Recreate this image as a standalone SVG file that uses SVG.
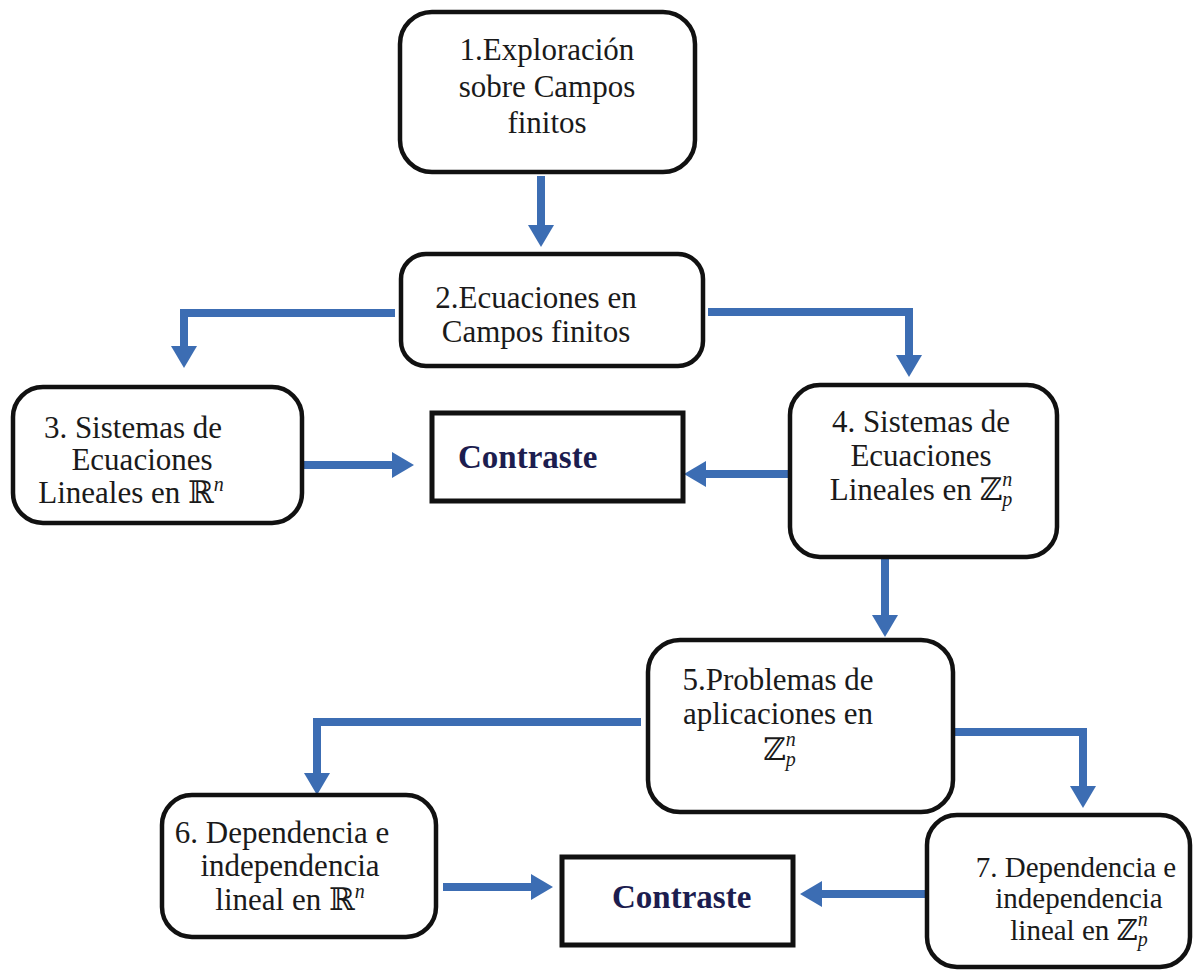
<svg xmlns="http://www.w3.org/2000/svg" width="1193" height="973" viewBox="0 0 1193 973">
<style>
.box{fill:#ffffff;stroke:#111111;stroke-width:4.5}
.cbox{fill:#ffffff;stroke:#111111;stroke-width:5}
.t{font-family:"Liberation Serif","Times New Roman",serif;font-size:31px;fill:#1a1a1a}
.c{font-family:"Liberation Serif","Times New Roman",serif;font-size:33px;font-weight:bold;fill:#1c1d4f}
.m{font-family:"DejaVu Serif","Liberation Serif",serif}
.i{font-style:italic;font-size:20px}
.conn{fill:none;stroke:#3c6db3;stroke-width:8;stroke-linejoin:miter}
</style>
<defs>
<marker id="ah" viewBox="0 0 22 26" refX="4" refY="13" markerWidth="22" markerHeight="26" markerUnits="userSpaceOnUse" orient="auto">
<path d="M0,0 L22,13 L0,26 Z" fill="#3c6db3"/>
</marker>
</defs>
<rect width="1193" height="973" fill="#ffffff"/>
<g id="connectors">
<path class="conn" d="M541,176 V229" marker-end="url(#ah)"/>
<path class="conn" d="M395,313 H184 V350" marker-end="url(#ah)"/>
<path class="conn" d="M708,312 H909 V359" marker-end="url(#ah)"/>
<path class="conn" d="M302,465 H396" marker-end="url(#ah)"/>
<path class="conn" d="M788,474 H702" marker-end="url(#ah)"/>
<path class="conn" d="M885,559 V619" marker-end="url(#ah)"/>
<path class="conn" d="M641,722 H317 V777" marker-end="url(#ah)"/>
<path class="conn" d="M955,732 H1083 V790" marker-end="url(#ah)"/>
<path class="conn" d="M443,887 H535" marker-end="url(#ah)"/>
<path class="conn" d="M925,894 H818" marker-end="url(#ah)"/>
</g>
<g id="n1">
<rect class="box" x="400" y="12" width="295" height="160" rx="32"/>
<text class="t" text-anchor="middle"><tspan x="547" y="60">1.Exploración</tspan><tspan x="547" y="97">sobre Campos</tspan><tspan x="547" y="133">finitos</tspan></text>
</g>
<g id="n2">
<rect class="box" x="401" y="254" width="302" height="112" rx="25"/>
<text class="t" text-anchor="middle"><tspan x="536" y="308">2.Ecuaciones en</tspan><tspan x="536" y="342">Campos finitos</tspan></text>
</g>
<g id="n3">
<rect class="box" x="13" y="387" width="289" height="136" rx="30"/>
<text class="t" text-anchor="middle"><tspan x="133" y="438">3. Sistemas de</tspan><tspan x="142" y="470">Ecuaciones</tspan><tspan x="131" y="503">Lineales en <tspan class="m">ℝ</tspan><tspan class="i" dy="-12">n</tspan></tspan></text>
</g>
<g id="c1">
<rect class="cbox" x="432" y="413" width="251" height="88"/>
<text class="c" x="458" y="468">Contraste</text>
</g>
<g id="n4">
<rect class="box" x="790" y="385" width="267" height="172" rx="30"/>
<text class="t" text-anchor="middle"><tspan x="921" y="432">4. Sistemas de</tspan><tspan x="921" y="466">Ecuaciones</tspan><tspan x="921" y="500">Lineales en <tspan class="m">ℤ</tspan><tspan class="i" dy="6">p</tspan><tspan class="i" dx="-10" dy="-20">n</tspan></tspan></text>
</g>
<g id="n5">
<rect class="box" x="648" y="640" width="305" height="172" rx="32"/>
<text class="t" text-anchor="middle"><tspan x="778" y="690">5.Problemas de</tspan><tspan x="778" y="724">aplicaciones en</tspan></text>
<text class="t" x="763" y="760"><tspan class="m">ℤ</tspan><tspan class="i" dy="6">p</tspan><tspan class="i" dx="-10" dy="-20">n</tspan></text>
</g>
<g id="n6">
<rect class="box" x="162" y="795" width="274" height="142" rx="30"/>
<text class="t" text-anchor="middle"><tspan x="282" y="843">6. Dependencia e</tspan><tspan x="290" y="876">independencia</tspan><tspan x="290" y="910">lineal en <tspan class="m">ℝ</tspan><tspan class="i" dy="-12">n</tspan></tspan></text>
</g>
<g id="c2">
<rect class="cbox" x="562" y="857" width="231" height="88"/>
<text class="c" x="612" y="908">Contraste</text>
</g>
<g id="n7">
<rect class="box" x="927" y="815" width="263" height="152" rx="30"/>
<text class="t" text-anchor="middle" style="font-size:29px"><tspan x="1076" y="877">7. Dependencia e</tspan><tspan x="1079" y="908">independencia</tspan><tspan x="1079" y="940">lineal en <tspan class="m">ℤ</tspan><tspan class="i" dy="6">p</tspan><tspan class="i" dx="-10" dy="-20">n</tspan></tspan></text>
</g>
</svg>
